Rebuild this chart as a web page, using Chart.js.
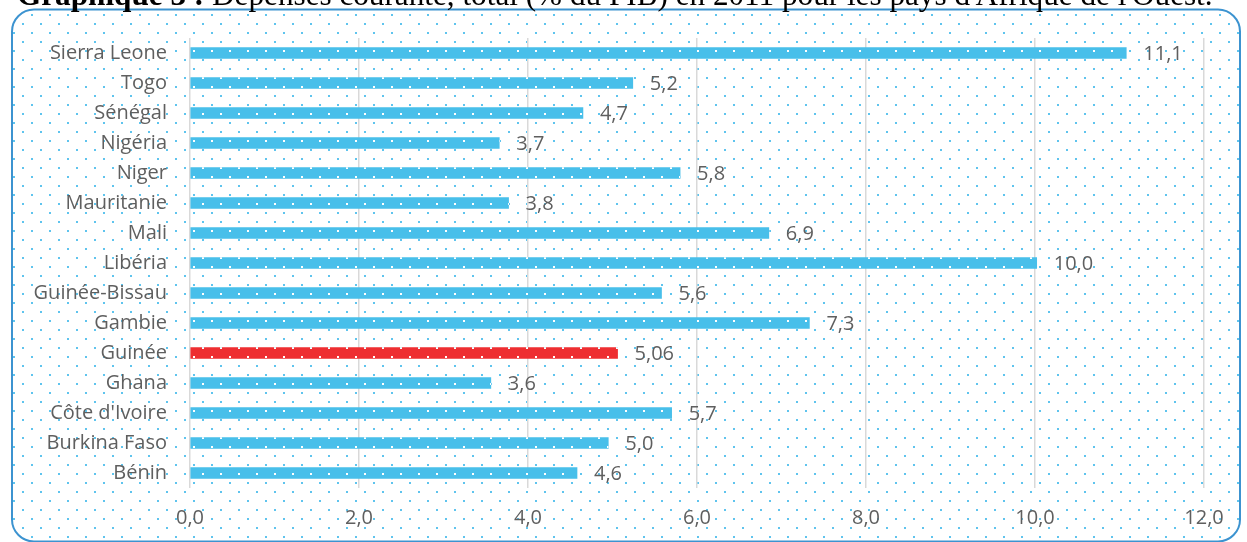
<!DOCTYPE html>
<html>
<head>
<meta charset="utf-8">
<script src="https://cdn.jsdelivr.net/npm/chart.js@4/dist/chart.umd.min.js"></script>
<style>
  html, body { margin: 0; padding: 0; background: #fff; }
  canvas { display: block; }
</style>
</head>
<body>
<canvas id="chart" width="1247" height="542"></canvas>
<script>
// Dépenses courantes, total (% du PIB) en 2011
const countries = ['Sierra Leone', 'Togo', 'Sénégal', 'Nigéria', 'Niger', 'Mauritanie', 'Mali',
  'Libéria', 'Guinée-Bissau', 'Gambie', 'Guinée', 'Ghana', "Côte d'Ivoire", 'Burkina Faso', 'Bénin'];
const values = [11.08, 5.24, 4.65, 3.66, 5.80, 3.77, 6.85, 10.02, 5.58, 7.33, 5.06, 3.56, 5.70, 4.95, 4.58];
const valueLabels = ['11,1', '5,2', '4,7', '3,7', '5,8', '3,8', '6,9', '10,0', '5,6', '7,3', '5,06', '3,6', '5,7', '5,0', '4,6'];
const highlight = 'Guinée';
const xMin = 0, xMax = 12, xStep = 2;

const titleBold = 'Graphique 3 : ';
const titleRest = "Dépenses courante, total (% du PIB) en 2011 pour les pays d'Afrique de l'Ouest.";

const textColor = '#5f5f5f';
const labelFont = { family: '"Open Sans", sans-serif', size: 20 };

const canvas = document.getElementById('chart');
const ctx = canvas.getContext('2d');

// little dotted texture, same grid for bars and background
function dots(bg, dot) {
  const t = document.createElement('canvas');
  t.width = 18; t.height = 18;
  const g = t.getContext('2d');
  if (bg) { g.fillStyle = bg; g.fillRect(0, 0, 18, 18); }
  g.fillStyle = dot;
  g.fillRect(13, 14, 2, 2);
  g.fillRect(4, 5, 2, 2);
  return ctx.createPattern(t, 'repeat');
}

const bluePattern = dots('#48BFEA', '#ffffff');
const redPattern = dots('#EE2E31', '#ffffff');
const bgPattern = dots(null, '#5EC4EE');

function frame(c) {
  c.beginPath();
  c.roundRect(12, 9.5, 1228, 532, 22);
}

const backdrop = {
  id: 'backdrop',
  beforeDraw(chart) {
    const c = chart.ctx;
    c.save();
    frame(c);
    c.clip();
    c.fillStyle = '#fff';
    c.fillRect(0, 0, chart.width, chart.height);
    c.fillStyle = bgPattern;
    c.fillRect(0, 0, chart.width, chart.height);
    c.restore();
  },
  afterDraw(chart) {
    const c = chart.ctx;
    c.save();
    frame(c);
    c.strokeStyle = '#3C93D0';
    c.lineWidth = 2;
    c.stroke();

    // title, mostly cut by the top edge
    let size = 27;
    c.font = 'bold ' + size + 'px "Liberation Serif"';
    let w1 = c.measureText(titleBold).width;
    c.font = size + 'px "Liberation Serif"';
    let w2 = c.measureText(titleRest).width;
    size = size * 1196 / (w1 + w2);
    c.fillStyle = '#000';
    c.textBaseline = 'alphabetic';
    c.font = 'bold ' + size + 'px "Liberation Serif"';
    c.fillText(titleBold, 17, 5);
    w1 = c.measureText(titleBold).width;
    c.font = size + 'px "Liberation Serif"';
    c.fillText(titleRest, 17 + w1, 5);
    c.restore();
  }
};

const barLabels = {
  id: 'barLabels',
  afterDatasetsDraw(chart) {
    const c = chart.ctx;
    c.save();
    c.font = labelFont.size + 'px ' + labelFont.family;
    c.fillStyle = textColor;
    c.textAlign = 'left';
    c.textBaseline = 'middle';
    chart.getDatasetMeta(0).data.forEach((bar, i) => {
      c.fillText(valueLabels[i], bar.x + 17, bar.y + 1);
    });
    c.restore();
  }
};

new Chart(ctx, {
  type: 'bar',
  data: {
    labels: countries,
    datasets: [{
      data: values,
      backgroundColor: countries.map(n => n === highlight ? redPattern : bluePattern),
      barThickness: 11,
      borderWidth: 0,
    }],
  },
  options: {
    indexAxis: 'y',
    responsive: false,
    animation: false,
    layout: { padding: { left: 14, right: 43, top: 38, bottom: 0 } },
    plugins: {
      legend: { display: false },
      tooltip: { enabled: false },
    },
    scales: {
      x: {
        min: xMin,
        max: xMax,
        ticks: {
          stepSize: xStep,
          color: textColor,
          font: labelFont,
          padding: 18,
          callback: v => v.toFixed(1).replace('.', ','),
        },
        grid: { color: '#D9D9D9', lineWidth: 1.5, drawTicks: false },
        border: { display: false },
        afterFit: s => { s.height = 54; },
      },
      y: {
        ticks: { color: textColor, font: labelFont, padding: 23 },
        grid: { display: false, drawTicks: false },
        border: { display: false },
        afterFit: s => { s.width = 176; },
      },
    },
  },
  plugins: [backdrop, barLabels],
});
</script>
</body>
</html>
